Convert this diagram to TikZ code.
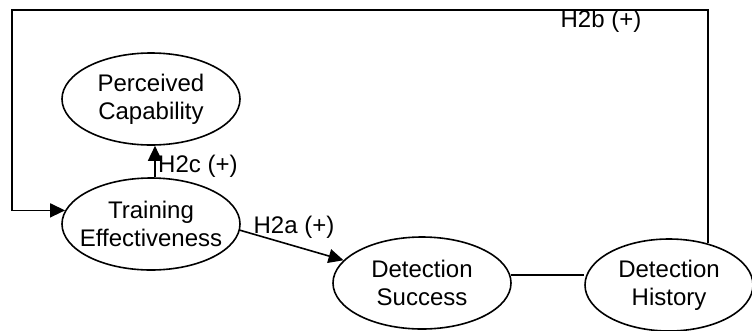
\documentclass[tikz,border=0pt]{standalone}
\usepackage{fontspec}
\setmainfont{Liberation Sans}
\usetikzlibrary{shapes.geometric,arrows.meta}
\begin{document}
\begin{tikzpicture}
[x=1pt,y=-1pt,
  lineDecorate/.style={-,line width=1.6pt},
  arrowDecorate/.style={-{Triangle[length=15pt,width=14pt]},line width=1.6pt},
  nodeDecorate/.style={shape=ellipse,draw,line width=1.6pt,inner xsep=-9pt,inner ysep=0pt,
    minimum height=92pt,align=center},
  labelDecorate/.style={inner sep=1pt}]
\fontsize{24}{28}\selectfont
\useasboundingbox (0,0) rectangle (752,330);
%% nodes or vertices
\foreach \nodename/\x/\y/\w/\nodetext in {
  PC/151/99/178/{Perceived\\Capability},
  TE/151/224/178/{Training\\Effectiveness},
  DS/422/283/178/{Detection\\Success},
  DH/669/285/168/{Detection\\History}}
{
  \node (\nodename) at (\x,\y) [nodeDecorate,minimum width=\w pt] {\nodetext};
}
\coordinate (corner) at (12,10);
%% edges or lines
\draw[arrowDecorate] ([xshift=4pt]TE.north) -- ([xshift=4pt]PC.south);
\draw[arrowDecorate] (TE.-4) -- (DS);
\draw[lineDecorate] (DS.5) -- (DS.5 -| DH.west);
\draw[arrowDecorate] (DH.47) |- (corner) |- (TE.171);
%% labels
\node[labelDecorate,anchor=west] (h2c) at (157,166) {H2c (+)};
\node[labelDecorate] (h2a) at (294,227) {H2a (+)};
\node[labelDecorate] (h2b) at (601,21) {H2b (+)};
\end{tikzpicture}
\end{document}
